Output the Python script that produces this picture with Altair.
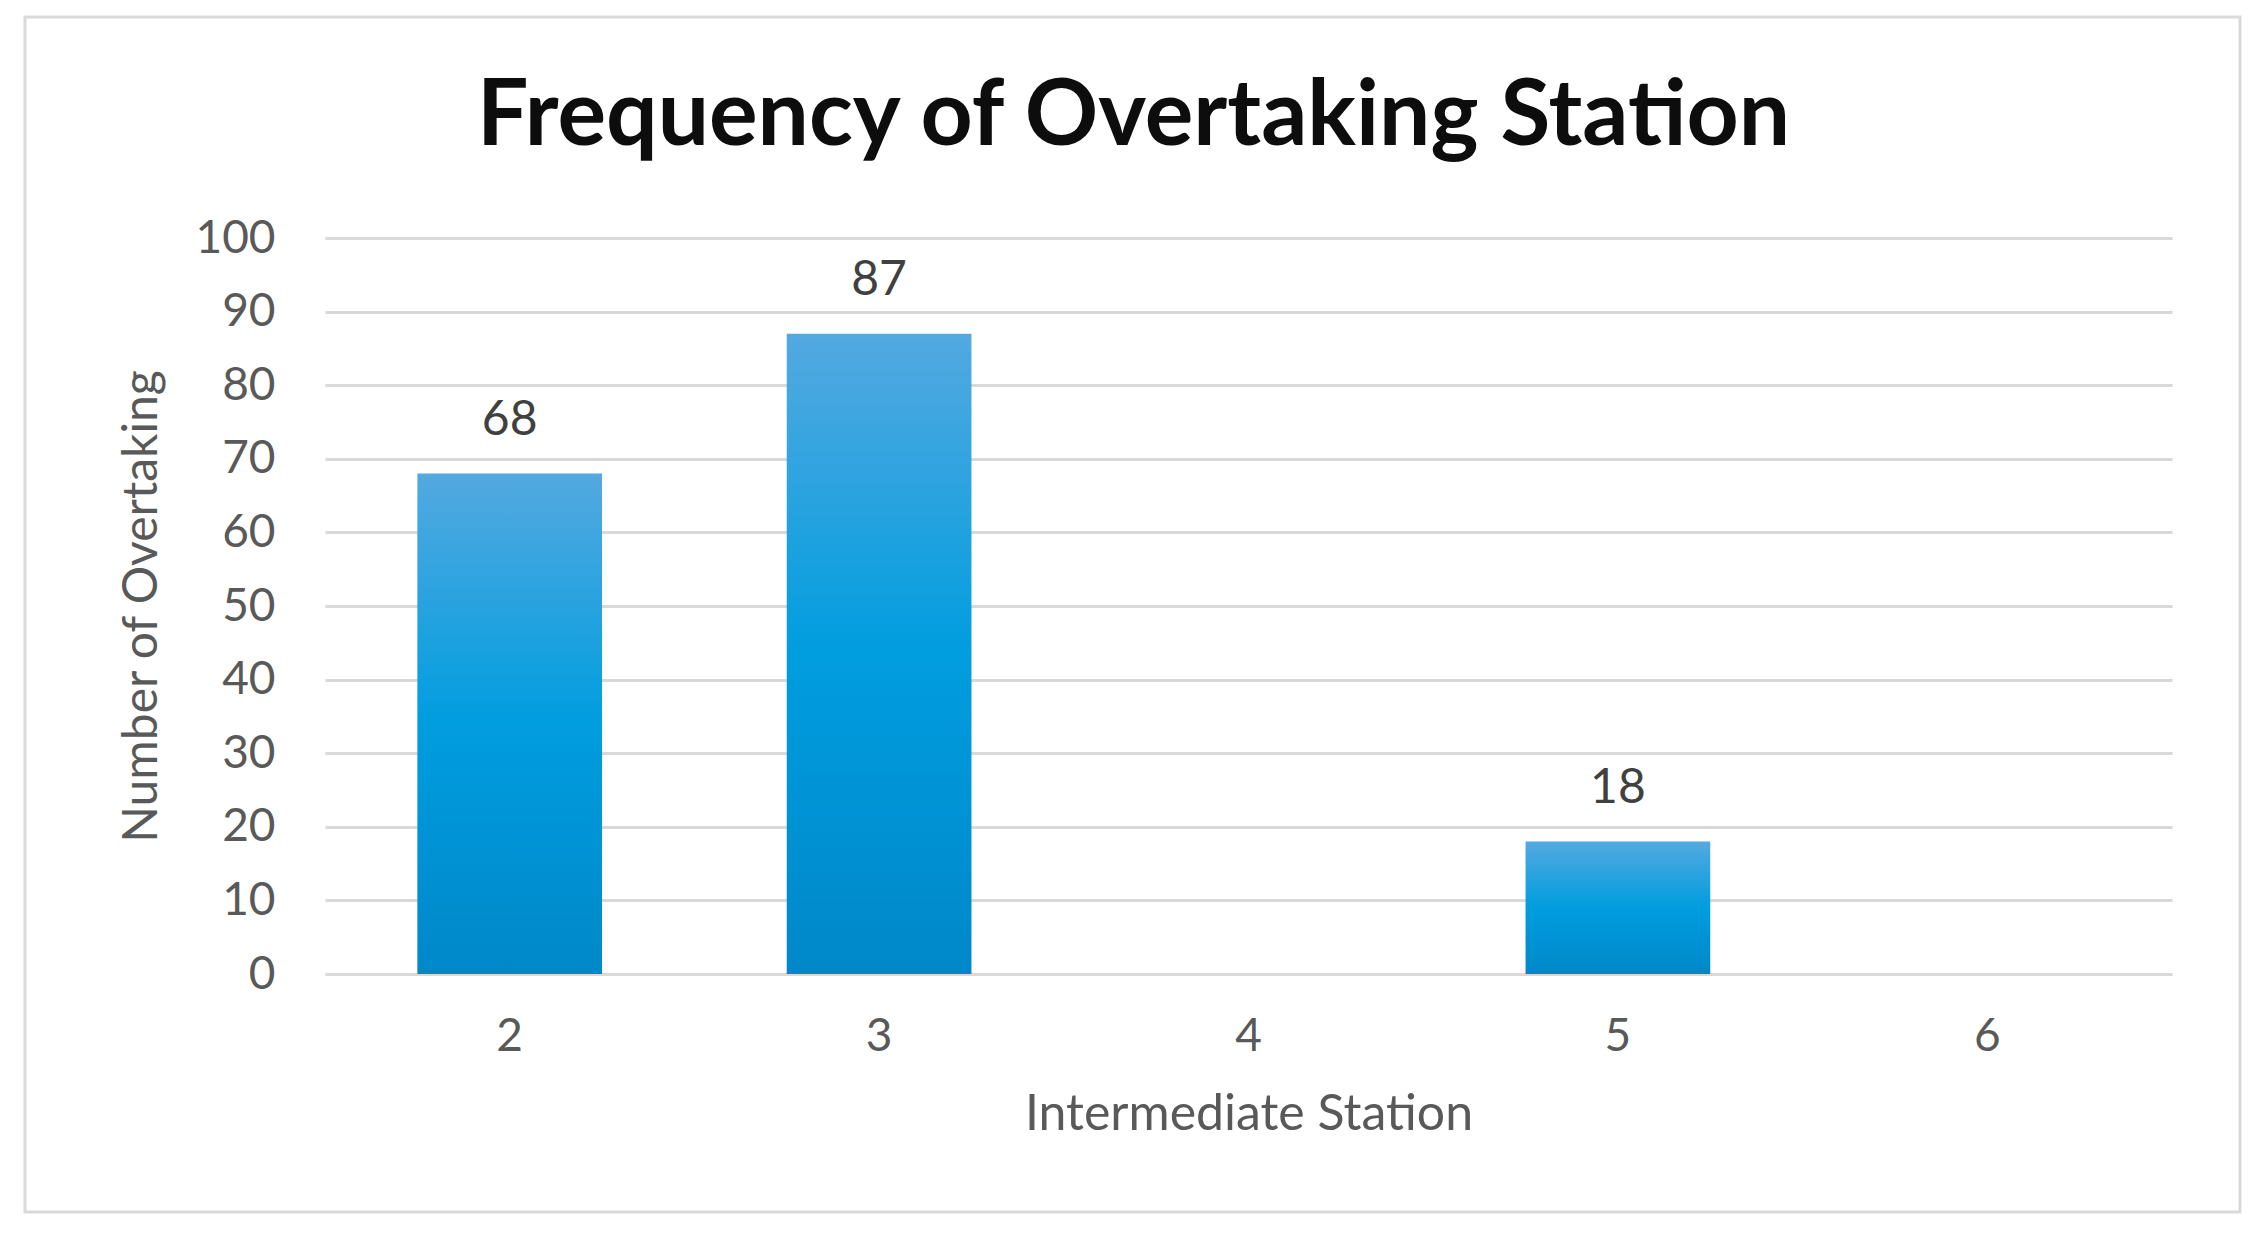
import altair as alt
import pandas as pd

stations = ["2", "3", "4", "5", "6"]
counts = [68, 87, 0, 18, 0]
y_ticks = [0, 10, 20, 30, 40, 50, 60, 70, 80, 90, 100]

df = pd.DataFrame({"station": stations, "count": counts})
df_lab = df[df["count"] > 0]

FONT = "Lato"
GRAY = "#595959"

grad = alt.Gradient(
    gradient="linear",
    stops=[
        alt.GradientStop(color="#54A9E0", offset=0),
        alt.GradientStop(color="#009DDF", offset=0.5),
        alt.GradientStop(color="#0088C9", offset=1),
    ],
    x1=0, x2=0, y1=0, y2=1,
)

x_enc = alt.X(
    "station:N",
    sort=stations,
    scale=alt.Scale(paddingInner=0.5, paddingOuter=0.25),
    axis=alt.Axis(
        title="Intermediate Station",
        labelAngle=0,
        labelFont=FONT,
        labelFontSize=46,
        labelColor=GRAY,
        labelPadding=40,
        titleFont=FONT,
        titleFontSize=50,
        titleFontWeight="normal",
        titleColor=GRAY,
        titlePadding=30,
        domain=False,
        ticks=False,
        grid=False,
    ),
)

y_enc = alt.Y(
    "count:Q",
    scale=alt.Scale(domain=[0, 100], nice=False),
    axis=alt.Axis(
        title="Number of Overtaking",
        values=y_ticks,
        labelFont=FONT,
        labelFontSize=46,
        labelColor=GRAY,
        labelPadding=50,
        titleFont=FONT,
        titleFontSize=48,
        titleFontWeight="normal",
        titleColor=GRAY,
        titlePadding=28,
        domain=False,
        ticks=False,
        grid=True,
        gridColor="#D9D9D9",
        gridWidth=3,
    ),
)

bars = alt.Chart(df).mark_bar(color=grad).encode(x=x_enc, y=y_enc)

labels = alt.Chart(df_lab).mark_text(
    font=FONT, fontSize=48, color="#404040", dy=-53, baseline="middle"
).encode(x=alt.X("station:N", sort=stations), y="count:Q", text="count:Q")

border = alt.Chart(pd.DataFrame({"a": [0]})).mark_rect(
    fill="transparent", stroke="#D9D9D9", strokeWidth=3
).encode(
    x=alt.value(-300), x2=alt.value(1915), y=alt.value(-221), y2=alt.value(974)
)

chart = alt.layer(border, bars, labels).properties(
    width=1847,
    height=736,
    padding={"left": 317, "top": 230, "right": 75, "bottom": 240},
    autosize=alt.AutoSizeParams(type="none"),
    title=alt.TitleParams(
        "Frequency of Overtaking Station",
        font=FONT,
        fontSize=91,
        fontWeight="bold",
        color="#0D0D0D",
        anchor="middle",
        baseline="alphabetic",
        dx=-115,
        offset=-220,
    ),
).configure(background="white").configure_view(stroke="transparent", strokeWidth=0)

chart.save("out.html", embed_options={"renderer": "svg", "actions": False})
